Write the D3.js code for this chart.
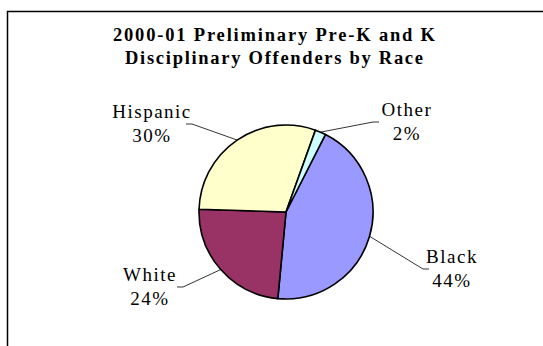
<!DOCTYPE html>
<html>
<head>
<meta charset="utf-8">
<script src="https://cdn.jsdelivr.net/npm/d3@7"></script>
<style>
  html, body { margin: 0; padding: 0; background: #fff; }
  svg { display: block; }
  text { font-family: "Liberation Serif", "Times New Roman", serif; fill: #000; }
</style>
</head>
<body>
<svg id="chart" width="543" height="346"></svg>
<script>
// ---- data ----
const categories = ["Black", "White", "Hispanic", "Other"];
const values = [44, 24, 30, 2];
const colors = ["#9999FF", "#993366", "#FFFFCC", "#CCFFFF"];
const titleLines = ["2000-01 Preliminary Pre-K and K", "Disciplinary Offenders by Race"];

// ---- layout ----
const W = 543, H = 346;
const cx = 286, cy = 212, R = 87;
const startDeg = 27;
// leader end and label centre x, both relative to pie centre
const labelLayout = {
  Black:    { end: [137, 57],  tx: 166,  dir: 1 },
  White:    { end: [-103, 75], tx: -136, dir: -1 },
  Hispanic: { end: [-94, -88], tx: -134, dir: -1 },
  Other:    { end: [87, -90],  tx: 121,  dir: 1 }
};

const svg = d3.select("#chart");

// frame
svg.append("path")
  .attr("d", `M7.5,${H} V11.5 H${W}`)
  .attr("fill", "none").attr("stroke", "#000").attr("stroke-width", 1.5);

// title
const titleWidths = [322, 298];
svg.append("g").selectAll("text").data(titleLines).join("text")
  .attr("x", 274).attr("y", (d, i) => 41 + i * 22.5)
  .attr("text-anchor", "middle")
  .attr("font-size", 18.5).attr("font-weight", "bold")
  .attr("textLength", (d, i) => titleWidths[i])
  .attr("lengthAdjust", "spacing")
  .text(d => d);

const data = categories.map((c, i) => ({ cat: c, value: values[i], color: colors[i] }));
const total = d3.sum(values);

const pie = d3.pie().sort(null).value(d => d.value)
  .startAngle(startDeg * Math.PI / 180)
  .endAngle(startDeg * Math.PI / 180 + 2 * Math.PI);
const arcs = pie(data);
const arc = d3.arc().innerRadius(0).outerRadius(R);

const g = svg.append("g").attr("transform", `translate(${cx},${cy})`);
g.selectAll("path.slice").data(arcs).join("path")
  .attr("class", "slice")
  .attr("d", arc)
  .attr("fill", d => d.data.color)
  .attr("stroke", "#000").attr("stroke-width", 1.6)
  .attr("stroke-linejoin", "round");

// leader lines
g.selectAll("path.leader").data(arcs).join("path")
  .attr("class", "leader")
  .attr("fill", "none").attr("stroke", "#000").attr("stroke-width", 0.8)
  .attr("d", d => {
    const a = (d.startAngle + d.endAngle) / 2;
    const sx = Math.sin(a) * R, sy = -Math.cos(a) * R;
    const L = labelLayout[d.data.cat];
    const [ex, ey] = L.end;
    return `M${sx},${sy} L${ex},${ey} L${ex + L.dir * 6},${ey}`;
  });

// labels
const lab = g.selectAll("text.lab").data(arcs).join("text")
  .attr("class", "lab")
  .attr("text-anchor", "middle")
  .attr("font-size", 19)
  .attr("letter-spacing", 1.5);
lab.each(function(d) {
  const L = labelLayout[d.data.cat];
  const t = d3.select(this);
  t.append("tspan").attr("x", L.tx).attr("y", L.end[1] - 6).text(d.data.cat);
  t.append("tspan").attr("x", L.tx).attr("y", L.end[1] + 18)
    .text(Math.round(d.data.value / total * 100) + "%");
});
</script>
</body>
</html>
